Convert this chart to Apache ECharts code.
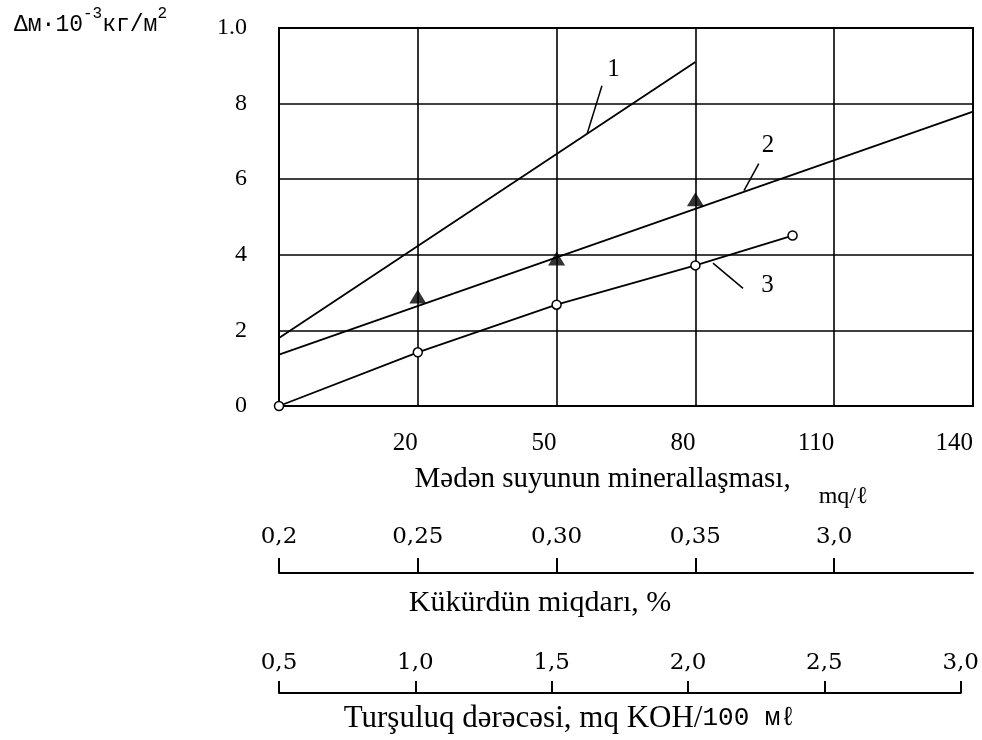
<!DOCTYPE html>
<html><head><meta charset="utf-8">
<script src="https://cdn.jsdelivr.net/npm/echarts@6/dist/echarts.min.js"></script>
<style>html,body{margin:0;padding:0;background:#fff}#c{width:982px;height:740px}</style>
</head><body><div id="c"></div>
<script>
// ---- data ----
const xMin = -10, xMax = 140;                 // mineralization axis extent
const xTickValues = [20, 50, 80, 110, 140];   // labelled gridlines
const yTickValues = [0, 2, 4, 6, 8, 10];
const yTickLabels = ['0', '2', '4', '6', '8', '1.0'];

const curve1 = [[-10, 1.8], [80, 9.1]];
const curve2Line = [[-10, 1.36], [140, 7.79]];
const curve2Points = [[20, 2.9], [50, 3.9], [80, 5.47]];
const curve3 = [[-10, 0], [20, 1.42], [50, 2.68], [80, 3.72], [101, 4.51]];

const sulfurLabels = ['0,2', '0,25', '0,30', '0,35', '3,0', ''];
const acidMin = 0.5, acidMax = 3.0, acidStep = 0.5;

// curve annotations: number, leader start, leader end, label position (data coords)
const curveNames = ['1', '2', '3'];
const leaderStart = [[59.8, 8.47], [93.7, 6.41], [90.3, 3.11]];
const leaderEnd = [[56.6, 7.2], [90.5, 5.7], [83.8, 3.78]];
const labelAt = [[62.3, 8.9], [95.7, 6.9], [95.6, 3.19]];

// ---- chart ----
const NUM = 'Liberation Serif';
const TXT = 'Liberation Serif';
const LOW = 'DejaVu Serif';
const MONO = 'Liberation Mono';

function annotation(i) {
  return {
    markLine: {
      silent: true, symbol: 'none', animation: false,
      lineStyle: { color: '#000', width: 1.5, type: 'solid' },
      label: { show: false },
      data: [[{ coord: leaderStart[i] }, { coord: leaderEnd[i] }]]
    },
    markPoint: {
      silent: true, symbol: 'circle', symbolSize: 1,
      itemStyle: { color: 'rgba(0,0,0,0)' },
      label: { show: true, position: 'inside', formatter: curveNames[i],
               fontFamily: TXT, fontSize: 25, color: '#000' },
      data: [{ coord: labelAt[i] }]
    }
  };
}

const chart = echarts.init(document.getElementById('c'));
const option = {
  backgroundColor: '#fff',
  animation: false,
  title: {
    left: 9, top: 1,
    text: '{a|Δм·10}{s|-3}{a|кг/м}{s|2}',
    textStyle: {
      fontWeight: 'normal',
      rich: {
        a: { fontFamily: MONO, fontSize: 23, fontWeight: 'normal', color: '#000', lineHeight: 30, verticalAlign: 'bottom' },
        s: { fontFamily: MONO, fontSize: 16, fontWeight: 'normal', color: '#000', lineHeight: 30, verticalAlign: 'top' }
      }
    }
  },
  grid: [
    { left: 279, right: 9, top: 28, height: 378, show: true, borderColor: '#000', borderWidth: 2, backgroundColor: 'transparent' },
    { left: 279, right: 9, top: 572, height: 1 },
    { left: 279, right: 9, top: 692, height: 1 }
  ],
  xAxis: [
    {
      gridIndex: 0, type: 'value', min: xMin, max: xMax,
      axisLine: { show: true, onZero: false, lineStyle: { color: '#000', width: 2 } },
      axisTick: { show: false, customValues: xTickValues },
      axisLabel: { customValues: xTickValues, color: '#000', fontFamily: NUM, fontSize: 25, margin: 25, align: 'right' },
      splitLine: { show: true, lineStyle: { color: '#000', width: 1.6 } },
      name: '{a|Mədən suyunun minerallaşması,}{g|}{b|mq/ℓ}',
      nameLocation: 'middle', nameGap: 59,
      nameTextStyle: {
        padding: [0, 0, 0, 30],
        rich: {
          a: { fontFamily: TXT, fontSize: 29, color: '#000', lineHeight: 44, verticalAlign: 'top' },
          g: { width: 28 },
          b: { fontFamily: TXT, fontSize: 24, color: '#000', lineHeight: 44, verticalAlign: 'bottom' }
        }
      }
    },
    {
      gridIndex: 1, type: 'category', data: sulfurLabels, boundaryGap: false,
      axisLine: { show: true, onZero: false, lineStyle: { color: '#000', width: 2 } },
      axisTick: { show: true, inside: true, length: 15, lineStyle: { color: '#000', width: 2 },
                  interval: function (i, v) { return v !== ''; } },
      axisLabel: { inside: true, interval: 0, margin: 24, color: '#000', fontFamily: LOW, fontSize: 23 },
      splitLine: { show: false },
      name: 'Kükürdün miqdarı, %', nameLocation: 'middle', nameGap: 15,
      nameTextStyle: { fontFamily: TXT, fontSize: 30, color: '#000', padding: [0, 172, 0, 0] }
    },
    {
      gridIndex: 2, type: 'value', min: acidMin, max: acidMax, interval: acidStep,
      axisLine: { show: true, onZero: false, lineStyle: { color: '#000', width: 2 } },
      axisTick: { show: true, inside: true, length: 12, lineStyle: { color: '#000', width: 2 } },
      axisLabel: { inside: true, margin: 18, color: '#000', fontFamily: LOW, fontSize: 23,
                   formatter: function (v) { return v.toFixed(1).replace('.', ','); } },
      splitLine: { show: false },
      name: '{a|Turşuluq dərəcəsi, mq KOH/}{b|100 мℓ}', nameLocation: 'middle', nameGap: 10,
      nameTextStyle: {
        padding: [0, 100, 0, 0],
        rich: {
          a: { fontFamily: TXT, fontSize: 31, color: '#000' },
          b: { fontFamily: MONO, fontSize: 26, color: '#000' }
        }
      }
    }
  ],
  yAxis: [
    {
      gridIndex: 0, type: 'value', min: 0, max: 10, interval: 2,
      axisLine: { show: true, onZero: false, lineStyle: { color: '#000', width: 2 } },
      axisTick: { show: false },
      axisLabel: { color: '#000', fontFamily: NUM, fontSize: 24, margin: 32,
                   formatter: function (v) { return yTickLabels[yTickValues.indexOf(v)]; } },
      splitLine: { show: true, lineStyle: { color: '#000', width: 1.6 } }
    },
    { gridIndex: 1, type: 'value', show: false },
    { gridIndex: 2, type: 'value', show: false }
  ],
  series: [
    Object.assign({
      name: '1', type: 'line', xAxisIndex: 0, yAxisIndex: 0, data: curve1,
      showSymbol: false, symbol: 'none', lineStyle: { color: '#000', width: 1.8 }
    }, annotation(0)),
    Object.assign({
      name: '2', type: 'line', xAxisIndex: 0, yAxisIndex: 0, data: curve2Line,
      showSymbol: false, symbol: 'none', lineStyle: { color: '#000', width: 1.8 }
    }, annotation(1)),
    {
      name: '2 points', type: 'scatter', xAxisIndex: 0, yAxisIndex: 0, data: curve2Points,
      symbol: 'triangle', symbolSize: [17, 14], itemStyle: { color: '#000' }
    },
    Object.assign({
      name: '3', type: 'line', xAxisIndex: 0, yAxisIndex: 0, data: curve3,
      symbol: 'circle', symbolSize: 9, showSymbol: true,
      itemStyle: { color: '#fff', borderColor: '#000', borderWidth: 1.5 },
      lineStyle: { color: '#000', width: 1.8 }
    }, annotation(2))
  ]
};
chart.setOption(option);
</script>
</body></html>
